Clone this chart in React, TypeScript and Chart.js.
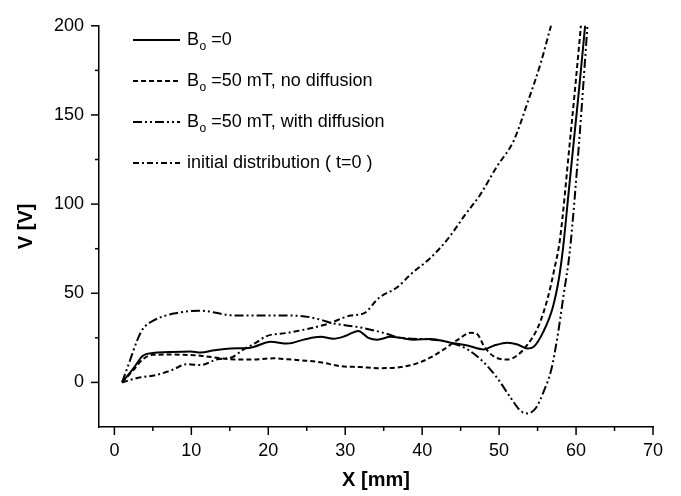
import React, { useEffect, useRef } from 'react';
import { Chart, registerables } from 'chart.js';
Chart.register(...registerables);

// ---- data (X in mm, V in volts) ----
const xB0Zero = [1, 2.5, 3.7, 5, 7, 9.9, 11.2, 13, 15.1, 17.7, 20.3, 22.5, 24.6, 26.8, 28.5, 30, 31.7, 33, 34.2, 35.9, 37.2, 38.9, 41.1, 43.7, 45.9, 48, 49.3, 51.1, 52.4, 53.7, 54.5, 55.8, 57, 57.8, 58.3, 59.0, 59.7, 60.45, 61.2];
const vB0Zero = [0, 8, 15, 16.5, 17, 17.4, 16.8, 18, 19, 19.5, 22.8, 21.8, 24, 25.6, 24.5, 26, 28.9, 25, 24, 25.6, 25, 23.9, 24.4, 22.3, 20.7, 18.5, 20.6, 22.3, 21.3, 19, 20, 28.9, 42.5, 59, 75, 105, 135, 167, 201];

const xNoDiff = [1, 2.5, 3.7, 5, 6.9, 9, 11.2, 13, 15.1, 17.7, 20.7, 22.5, 24.2, 26.8, 29.4, 32, 34.2, 37.2, 39.4, 41.1, 42.8, 44.6, 46.3, 47.2, 48, 49.3, 51.1, 52.4, 53.7, 55.1, 56.3, 57.2, 57.9, 59.2, 59.9, 60.65];
const vNoDiff = [0, 7, 13, 15.5, 15.6, 15.5, 15, 14, 13, 12.8, 13.5, 13, 12.4, 11.3, 9.1, 8.6, 8, 8.6, 10.8, 14, 18.5, 23.9, 27.8, 26.9, 20.6, 14.6, 12.8, 15.3, 21.3, 31.4, 47, 64, 80, 135, 166, 201];

const xWithDiff = [1, 2, 3, 3.7, 5, 7.7, 11.2, 15.5, 19.8, 24.2, 26.5, 28.5, 32, 35, 37.2, 41.1, 43.7, 45.9, 48, 49.8, 51.5, 52.8, 53.7, 54.8, 55.8, 56.8, 57.6, 58.4, 59.2, 60.4, 61.5];
const vWithDiff = [0, 12, 24, 30, 34.5, 38.6, 40.2, 37.6, 37.6, 37.3, 35.5, 33.1, 30.8, 27.8, 25, 24.1, 22.3, 18.5, 11.3, 2.2, -8.6, -16, -17.4, -14.2, -5, 7.5, 26, 49.6, 74, 135, 201];

const xInitial = [1, 3, 5.5, 7.5, 9.4, 11.2, 13.4, 15.2, 16.8, 18.3, 19.8, 22.5, 25.1, 27.7, 30.7, 32.4, 34.4, 36.8, 38.5, 41.1, 43.4, 45.5, 47.5, 49.7, 51.9, 53.7, 55.4, 56.8];
const vInitial = [0, 2.5, 4.2, 7, 10.2, 9.7, 13, 14, 18.5, 22, 26, 27.8, 30, 32.8, 37.5, 38.7, 47.5, 53.5, 60.6, 69.9, 80.8, 93.5, 105, 121, 135.6, 157, 179, 201];

const seriesLabels = ['B_o =0', 'B_o =50 mT, no diffusion', 'B_o =50 mT, with diffusion', 'initial distribution ( t=0 )'];

const xTickValues = [0, 10, 20, 30, 40, 50, 60, 70];
const xMinorTicks = [5, 15, 25, 35, 45, 55, 65];
const yTickValues = [0, 50, 100, 150, 200];
const yMinorTicks = [25, 75, 125, 175];

const FONT = 'Liberation Sans, Arial, Helvetica, sans-serif';

function pts(xs: number[], vs: number[]) {
  return xs.map((x, i) => ({ x, y: vs[i] }));
}

const customPlugin = {
  id: 'customAxesLegend',
  afterDraw(chart: any) {
    const ctx = chart.ctx as CanvasRenderingContext2D;
    const xs = chart.scales.x;
    const ys = chart.scales.y;
    const { left, bottom } = chart.chartArea;
    ctx.save();
    ctx.strokeStyle = '#000';
    ctx.lineWidth = 1.5;
    ctx.setLineDash([]);
    const tick = (x1: number, y1: number, x2: number, y2: number) => {
      ctx.beginPath();
      ctx.moveTo(x1, y1);
      ctx.lineTo(x2, y2);
      ctx.stroke();
    };
    xTickValues.forEach(v => { const p = xs.getPixelForValue(v); tick(p, bottom, p, bottom + 8); });
    xMinorTicks.forEach(v => { const p = xs.getPixelForValue(v); tick(p, bottom, p, bottom + 4); });
    yTickValues.forEach(v => { const p = ys.getPixelForValue(v); tick(left, p, left - 8, p); });
    yMinorTicks.forEach(v => { const p = ys.getPixelForValue(v); tick(left, p, left - 4, p); });

    // legend
    chart.data.datasets.forEach((ds: any, i: number) => {
      const y = 40 + i * 41;
      ctx.strokeStyle = '#000';
      ctx.lineWidth = ds.borderWidth;
      ctx.setLineDash(ds.borderDash || []);
      tick(133, y, 180, y);
      ctx.setLineDash([]);
      ctx.fillStyle = '#000';
      ctx.textBaseline = 'middle';
      ctx.textAlign = 'left';
      const label: string = ds.label;
      let x = 187;
      const idx = label.indexOf('_');
      if (idx >= 0) {
        const main = label.slice(0, idx);
        const sub = label.slice(idx + 1, idx + 2);
        const rest = label.slice(idx + 2);
        ctx.font = `18px ${FONT}`;
        ctx.fillText(main, x, y);
        x += ctx.measureText(main).width + 0.5;
        ctx.font = `12px ${FONT}`;
        ctx.fillText(sub, x, y + 7);
        x += ctx.measureText(sub).width;
        ctx.font = `18px ${FONT}`;
        ctx.fillText(rest, x, y);
      } else {
        ctx.font = `18px ${FONT}`;
        ctx.fillText(label, x, y);
      }
    });
    ctx.restore();
  },
};

export default function App() {
  const ref = useRef<HTMLCanvasElement>(null);
  useEffect(() => {
    const common = {
      borderColor: '#000',
      backgroundColor: 'transparent',
      fill: false,
      pointRadius: 0,
      borderWidth: 2,
      cubicInterpolationMode: 'monotone' as const,
    };
    const chart = new Chart(ref.current!, {
      type: 'line',
      data: {
        datasets: [
          { ...common, label: seriesLabels[0], data: pts(xB0Zero, vB0Zero), borderDash: [] },
          { ...common, label: seriesLabels[1], data: pts(xNoDiff, vNoDiff), borderDash: [5, 3] },
          { ...common, label: seriesLabels[2], data: pts(xWithDiff, vWithDiff), borderDash: [9, 3, 2, 3, 2, 3] },
          { ...common, label: seriesLabels[3], data: pts(xInitial, vInitial), borderDash: [6, 3, 2, 3] },
        ],
      },
      options: {
        animation: false,
        responsive: false,
        devicePixelRatio: 1,
        layout: { padding: { top: 16, right: 28, left: 0, bottom: 0 } },
        plugins: { legend: { display: false }, tooltip: { enabled: false } },
        scales: {
          x: {
            type: 'linear',
            min: -2,
            max: 70,
            afterFit: (s: any) => { s.height = 69; },
            afterBuildTicks: (s: any) => { s.ticks = xTickValues.map(v => ({ value: v })); },
            grid: { display: false, drawTicks: false },
            border: { display: true, color: '#000', width: 1.5 },
            ticks: { padding: 13, color: '#000', font: { family: FONT, size: 18 }, maxRotation: 0, autoSkip: false },
            title: { display: true, text: 'X [mm]', color: '#000', font: { family: FONT, size: 20, weight: 'bold' }, padding: { top: 0, bottom: 4 } },
          },
          y: {
            type: 'linear',
            min: -25,
            max: 200,
            afterFit: (s: any) => { s.width = 99; },
            afterBuildTicks: (s: any) => { s.ticks = yTickValues.map(v => ({ value: v })); },
            grid: { display: false, drawTicks: false },
            border: { display: true, color: '#000', width: 1.5 },
            ticks: { padding: 15, color: '#000', font: { family: FONT, size: 18 }, autoSkip: false },
            title: { display: true, text: 'V [V]', color: '#000', font: { family: FONT, size: 20, weight: 'bold' }, padding: { top: 14, bottom: 0 } },
          },
        },
      },
      plugins: [customPlugin],
    });
    return () => chart.destroy();
  }, []);
  return (
    <div style={{ position: 'fixed', left: 0, top: 0, width: 681, height: 496, background: '#fff' }}>
      <canvas ref={ref} width={681} height={496} style={{ display: 'block' }} />
    </div>
  );
}
